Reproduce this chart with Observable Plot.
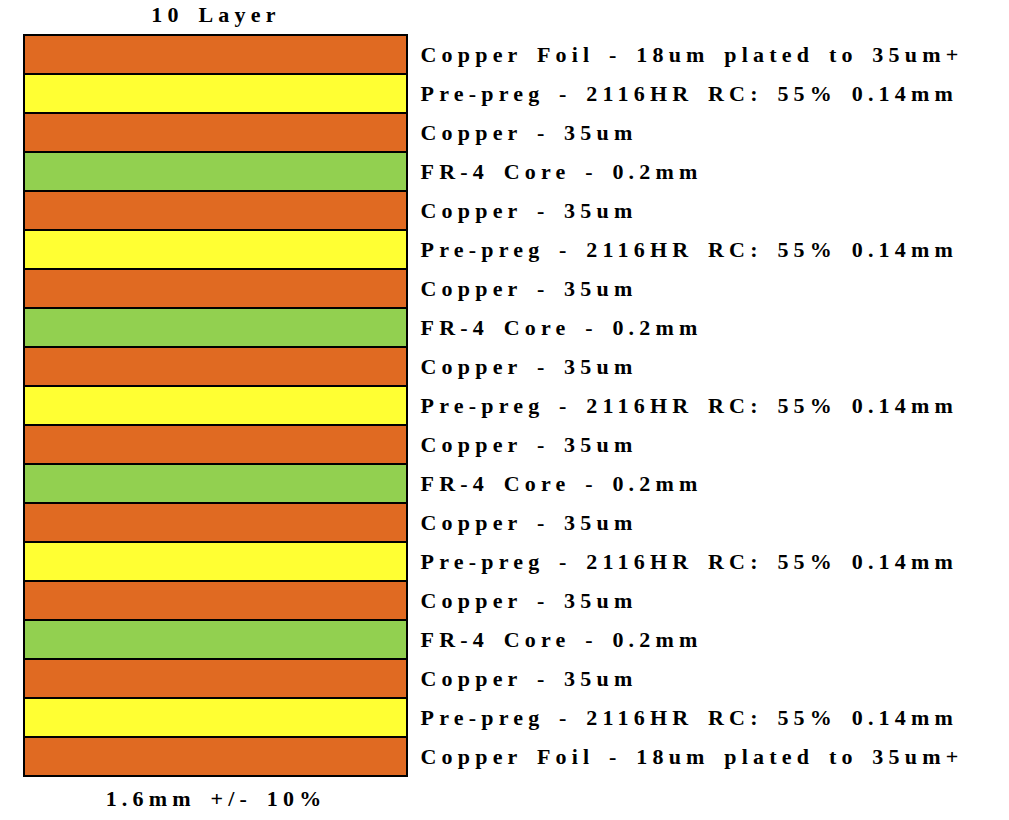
<!DOCTYPE html>
<html><head><meta charset="utf-8">
<script src="https://cdn.jsdelivr.net/npm/d3@7"></script>
<script src="https://cdn.jsdelivr.net/npm/@observablehq/plot@0.6"></script>
<style>
body { margin: 0; background: #fff; }
svg text { font-family: "Liberation Serif", serif; font-weight: bold; letter-spacing: 5.2px; word-spacing: 4px; }
</style></head>
<body><div id="chart"></div>
<script>
const title = "10 Layer";
const thickness = "1.6mm +/- 10%";
const materials = ["foil", "prepreg", "copper", "core", "copper", "prepreg", "copper", "core", "copper", "prepreg",
  "copper", "core", "copper", "prepreg", "copper", "core", "copper", "prepreg", "foil"];
const labelsByMaterial = {
  foil: "Copper Foil - 18um plated to 35um+",
  prepreg: "Pre-preg - 2116HR RC: 55% 0.14mm",
  copper: "Copper - 35um",
  core: "FR-4 Core - 0.2mm"
};
const colorsByMaterial = { foil: "#e06a22", copper: "#e06a22", prepreg: "#ffff33", core: "#92d050" };

const layers = materials.map((m, i) => ({ i, m, label: labelsByMaterial[m] }));

const plot = Plot.plot({
  width: 1009,
  height: 820,
  marginLeft: 24,
  marginRight: 602,
  marginTop: 33,
  marginBottom: 42,
  x: { domain: [0, 1], axis: null },
  y: { domain: layers.map(d => d.i), padding: 0, axis: null },
  marks: [
    Plot.barX(layers, { x1: 0, x2: 1, y: "i", fill: d => colorsByMaterial[d.m], stroke: "#000", strokeWidth: 2 }),
    Plot.text(layers, { x: 1, y: "i", text: "label", textAnchor: "start", dx: 13, fontSize: 22, fill: "#000" }),
    Plot.text([title], { frameAnchor: "top", dy: -27, fontSize: 22, fill: "#000" }),
    Plot.text([thickness], { frameAnchor: "bottom", dy: 27, fontSize: 22, fill: "#000" })
  ]
});
document.querySelector("#chart").append(plot);
</script></body></html>
